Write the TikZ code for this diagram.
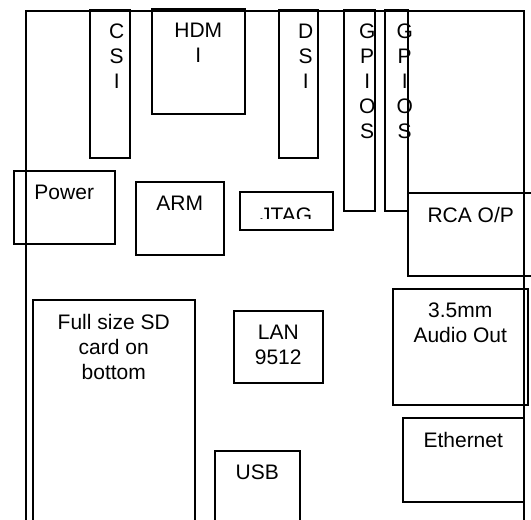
\documentclass[tikz,border=0pt]{standalone}
\usepackage{fontspec}
\setmainfont{Liberation Sans}
\usepackage{tikz}
\usetikzlibrary{positioning}

\begin{document}
\begin{tikzpicture}[
  x=1pt, y=-1pt, font=\fontsize{21}{25}\selectfont,
  chip/.style={draw, line width=1.5pt, inner sep=0pt, anchor=north west},
  lbl/.style={inner sep=0pt, align=center}
]
\useasboundingbox (0,0) rectangle (531,520);
\clip (0,0) rectangle (531,520);

\node[chip, minimum width=498pt, minimum height=530pt] (board) at (25,10) {};

\node[chip, minimum width=40pt, minimum height=148pt] (csi) at (89,9) {};
\node[chip, minimum width=93pt, minimum height=105pt] (hdmi) at (151,8) {};
\node[chip, minimum width=39pt, minimum height=148pt] (dsi) at (278,9) {};
\node[chip, minimum width=31pt, minimum height=201pt] (gpioa) at (343,9) {};
\node[chip, minimum width=23pt, minimum height=201pt] (gpiob) at (384,9) {};
\node[chip, minimum width=101pt, minimum height=73pt] (power) at (13,170) {};
\node[chip, minimum width=88pt, minimum height=73pt] (arm) at (135,181) {};
\node[chip, minimum width=93pt, minimum height=38pt] (jtag) at (239,191) {};
\node[chip, minimum width=126pt, minimum height=83pt] (rca) at (407,192) {};
\node[chip, minimum width=135pt, minimum height=116pt] (audio) at (392,288) {};
\node[chip, minimum width=121pt, minimum height=84pt] (ether) at (402,417) {};
\node[chip, minimum width=162pt, minimum height=241pt] (sd) at (32,299) {};
\node[chip, minimum width=89pt, minimum height=72pt] (lan) at (233,310) {};
\node[chip, minimum width=85pt, minimum height=90pt] (usb) at (214,450) {};

\node[lbl, below=15pt of csi.north, xshift=7pt] (csitxt) {C\\S\\I};
\node[lbl, below=15pt of hdmi.north] (hdmitxt) {HDM\\I};
\node[lbl, below=15pt of dsi.north, xshift=7.5pt] (dsitxt) {D\\S\\I};
\node[lbl, below=15pt of gpioa.north, xshift=8pt] (gpioatxt) {G\\P\\I\\O\\S};
\node[lbl, below=15pt of gpiob.north, xshift=8.5pt] (gpiobtxt) {G\\P\\I\\O\\S};
\node[lbl, below=15pt of power.north] (powertxt) {Power};
\node[lbl, below=15pt of arm.north] (armtxt) {ARM};
\begin{scope}
  \clip (jtag.north west) rectangle ([yshift=-27.3pt]jtag.north east);
  \node[lbl, below=16.7pt of jtag.north] (jtagtxt) {JTAG};
\end{scope}
\node[lbl, below=15pt of rca.north] (rcatxt) {RCA O/P};
\node[lbl, below=15pt of audio.north] (audiotxt) {3.5mm\\Audio Out};
\node[lbl, below=15pt of ether.north] (ethertxt) {Ethernet};
\node[lbl, below=15pt of sd.north] (sdtxt) {Full size SD\\card on\\bottom};
\node[lbl, below=15pt of lan.north] (lantxt) {LAN\\9512};
\node[lbl, below=15pt of usb.north] (usbtxt) {USB};
\end{tikzpicture}
\end{document}
